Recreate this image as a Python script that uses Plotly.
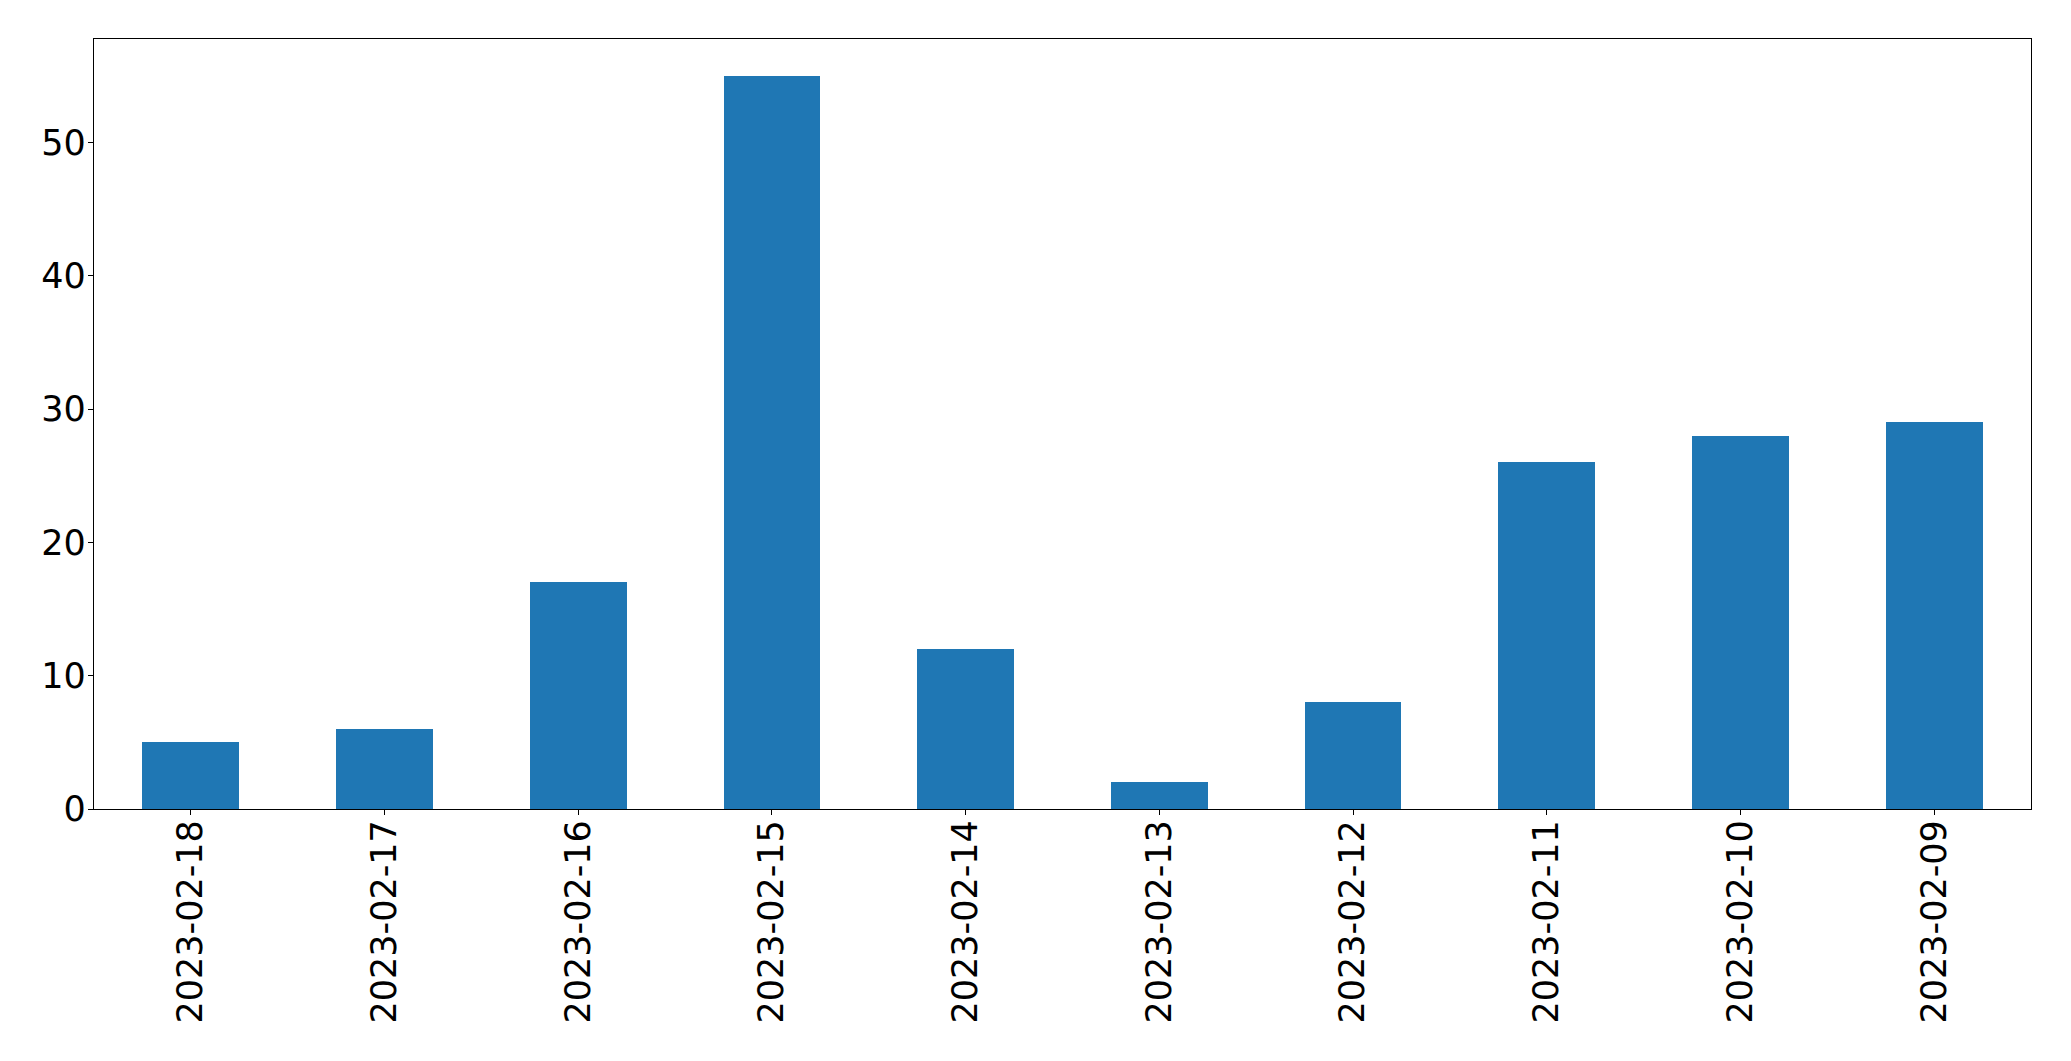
import plotly.graph_objects as go

dates = ["2023-02-18", "2023-02-17", "2023-02-16", "2023-02-15", "2023-02-14",
         "2023-02-13", "2023-02-12", "2023-02-11", "2023-02-10", "2023-02-09"]
counts = [5, 6, 17, 55, 12, 2, 8, 26, 28, 29]
y_ticks = [0, 10, 20, 30, 40, 50]

fig = go.Figure(go.Bar(x=dates, y=counts, width=0.5, marker=dict(color="#1f77b4", line=dict(width=0))))

font = dict(family="DejaVu Sans", size=35, color="black")
fig.update_layout(
    width=2063, height=1053,
    margin=dict(l=86, r=40, t=31, b=252),
    plot_bgcolor="white", paper_bgcolor="white",
    showlegend=False, bargap=0,
    font=font,
)
fig.update_xaxes(
    type="category", range=[-0.5, 9.5], tickangle=-90,
    showline=True, linecolor="black", linewidth=1.3, mirror=True,
    ticks="outside", ticklen=5, tickwidth=1.3, tickcolor="black",
    showgrid=False, zeroline=False, tickfont=font, ticklabelstandoff=-9,
)
fig.update_yaxes(
    range=[0, 57.75], tickvals=y_ticks,
    showline=True, linecolor="black", linewidth=1.3, mirror=True,
    ticks="outside", ticklen=5, tickwidth=1.3, tickcolor="black",
    showgrid=False, zeroline=False, tickfont=font, ticklabelstandoff=-5,
)
fig.write_html("out.html")
